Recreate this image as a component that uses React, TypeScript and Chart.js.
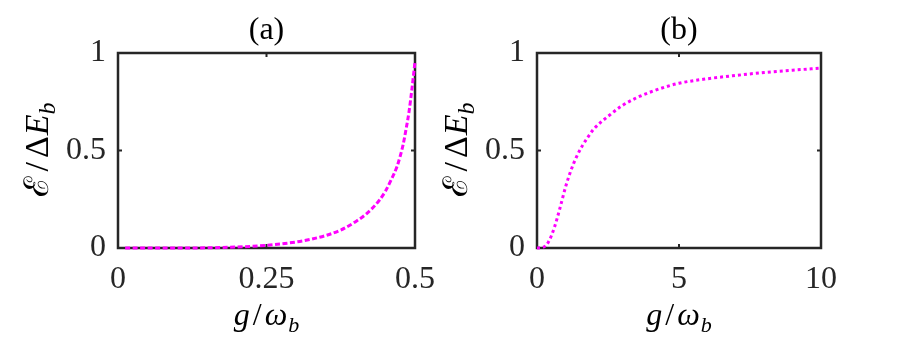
import React, { useEffect, useRef } from "react";
import { Chart, registerables } from "chart.js";
Chart.register(...registerables);

// ---- data ----
const gA = [0.012, 0.05, 0.1, 0.15, 0.2, 0.25, 0.3, 0.325, 0.35, 0.375, 0.4, 0.42, 0.44, 0.45, 0.46, 0.47, 0.475, 0.48, 0.485, 0.49, 0.495, 0.5];
const eA = [0, 0, 0, 0.001, 0.005, 0.014, 0.031, 0.045, 0.064, 0.092, 0.135, 0.18, 0.245, 0.29, 0.35, 0.42, 0.47, 0.53, 0.61, 0.7, 0.82, 0.955];

const gB = [0, 0.2, 0.4, 0.6, 0.8, 1.0, 1.2, 1.4, 1.6, 1.8, 2.0, 2.5, 3.0, 3.5, 4.0, 4.5, 5.0, 6.0, 7.0, 8.0, 9.0, 10];
const eB = [0, 0.003, 0.03, 0.1, 0.2, 0.31, 0.4, 0.47, 0.525, 0.57, 0.61, 0.675, 0.73, 0.77, 0.8, 0.825, 0.845, 0.868, 0.885, 0.9, 0.912, 0.922];

const xTicksA = [0, 0.25, 0.5];
const xTicksB = [0, 5, 10];
const yTicks = [0, 0.5, 1];
const titleA = "(a)";
const titleB = "(b)";

type Part = { t: string; style: "n" | "i" | "sub"; gap?: number };
const xLabelParts: Part[] = [
  { t: "g", style: "i", gap: 3 },
  { t: "/", style: "n", gap: 3 },
  { t: "ω", style: "i", gap: 1 },
  { t: "b", style: "sub" },
];
const yLabelParts: Part[] = [
  { t: "ℰ", style: "n", gap: 4 },
  { t: "/", style: "n", gap: 4 },
  { t: "Δ", style: "n", gap: 1 },
  { t: "E", style: "i", gap: 0 },
  { t: "b", style: "sub" },
];

const FAM = '"Liberation Serif", "DejaVu Serif", serif';
const TICK_COLOR = "#262626";
const FRAME_COLOR = "#262626";
const LINE_COLOR = "#ff00ff";

function partFont(p: Part, size: number) {
  if (p.style === "sub") return `italic ${Math.round(size * 0.7)}px ${FAM}`;
  if (p.style === "i") return `italic ${size}px ${FAM}`;
  return `${size}px ${FAM}`;
}

function drawParts(ctx: CanvasRenderingContext2D, parts: Part[], size: number) {
  // draws centred horizontally at (0,0) with alphabetic baseline
  let total = 0;
  const widths = parts.map((p) => {
    ctx.font = partFont(p, size);
    const w = ctx.measureText(p.t).width;
    total += w + (p.gap || 0);
    return w;
  });
  let x = -total / 2;
  parts.forEach((p, i) => {
    ctx.font = partFont(p, size);
    const dy = p.style === "sub" ? size * 0.22 : 0;
    ctx.fillText(p.t, x, dy);
    x += widths[i] + (p.gap || 0);
  });
}

const framePlugin = {
  id: "frameTicks",
  beforeDatasetsDraw(chart: any) {
    const { ctx, chartArea: a, scales } = chart;
    ctx.save();
    ctx.strokeStyle = FRAME_COLOR;
    ctx.lineWidth = 2.5;
    ctx.strokeRect(a.left, a.top, a.right - a.left, a.bottom - a.top);
    ctx.lineWidth = 2;
    const L = 4;
    scales.x.ticks.forEach((t: any) => {
      const px = scales.x.getPixelForValue(t.value);
      ctx.beginPath();
      ctx.moveTo(px, a.bottom);
      ctx.lineTo(px, a.bottom - L);
      ctx.moveTo(px, a.top);
      ctx.lineTo(px, a.top + L);
      ctx.stroke();
    });
    scales.y.ticks.forEach((t: any) => {
      const py = scales.y.getPixelForValue(t.value);
      ctx.beginPath();
      ctx.moveTo(a.left, py);
      ctx.lineTo(a.left + L, py);
      ctx.moveTo(a.right, py);
      ctx.lineTo(a.right - L, py);
      ctx.stroke();
    });
    ctx.restore();
  },
};

const labelsPlugin = {
  id: "mathLabels",
  afterDraw(chart: any) {
    const { ctx, chartArea: a } = chart;
    const title = chart.options.plugins.mathLabels.title;
    const cx = (a.left + a.right) / 2;
    ctx.save();
    ctx.fillStyle = "#000";
    ctx.textBaseline = "alphabetic";
    ctx.textAlign = "left";
    // title
    ctx.font = `32px ${FAM}`;
    const tw = ctx.measureText(title).width;
    ctx.fillText(title, cx - tw / 2, a.top - 14);
    // x label
    ctx.save();
    ctx.translate(cx, a.bottom + 77);
    drawParts(ctx, xLabelParts, 32);
    ctx.restore();
    // y label
    ctx.save();
    ctx.translate(a.left - 70, (a.top + a.bottom) / 2 - 1);
    ctx.rotate(-Math.PI / 2);
    drawParts(ctx, yLabelParts, 34);
    ctx.restore();
    ctx.restore();
  },
};

function makeConfig(
  xs: number[],
  ys: number[],
  xTicks: number[],
  title: string,
  yAxisWidth: number,
  padRight: number,
  dash: number[]
): any {
  const tickFont = { family: FAM, size: 32, lineHeight: 1.2 };
  return {
    type: "line",
    data: {
      datasets: [
        {
          data: xs.map((x, i) => ({ x, y: ys[i] })),
          borderColor: LINE_COLOR,
          borderWidth: 3,
          borderDash: dash,
          borderCapStyle: "butt",
          pointRadius: 0,
          fill: false,
          cubicInterpolationMode: "monotone",
          clip: false,
        },
      ],
    },
    options: {
      animation: false,
      responsive: false,
      maintainAspectRatio: false,
      devicePixelRatio: 1,
      layout: { padding: { top: 53, right: padRight, left: 0, bottom: 0 } },
      plugins: {
        legend: { display: false },
        tooltip: { enabled: false },
        title: { display: false },
        mathLabels: { title },
      },
      scales: {
        x: {
          type: "linear",
          min: xTicks[0],
          max: xTicks[xTicks.length - 1],
          afterBuildTicks: (s: any) => {
            s.ticks = xTicks.map((v) => ({ value: v }));
          },
          afterFit: (s: any) => {
            s.height = 92;
          },
          grid: { display: false, drawTicks: false },
          border: { display: false },
          ticks: {
            font: tickFont,
            color: TICK_COLOR,
            padding: 12,
            maxRotation: 0,
            autoSkip: false,
            callback: (v: any) => String(v),
          },
        },
        y: {
          type: "linear",
          min: yTicks[0],
          max: yTicks[yTicks.length - 1],
          afterBuildTicks: (s: any) => {
            s.ticks = yTicks.map((v) => ({ value: v }));
          },
          afterFit: (s: any) => {
            s.width = yAxisWidth;
          },
          grid: { display: false, drawTicks: false },
          border: { display: false },
          ticks: {
            font: tickFont,
            color: TICK_COLOR,
            padding: 12,
            autoSkip: false,
            callback: (v: any) => String(v),
          },
        },
      },
    },
    plugins: [framePlugin, labelsPlugin],
  };
}

export default function App() {
  const refA = useRef<HTMLCanvasElement>(null);
  const refB = useRef<HTMLCanvasElement>(null);

  useEffect(() => {
    const cA = new Chart(refA.current!, makeConfig(gA, eA, xTicksA, titleA, 118, 39, [5, 2.5]));
    const cB = new Chart(refB.current!, makeConfig(gB, eB, xTicksB, titleB, 107, 86, [3, 3]));
    return () => {
      cA.destroy();
      cB.destroy();
    };
  }, []);

  return (
    <div style={{ position: "absolute", left: 0, top: 0, width: 907, height: 340, background: "#fff" }}>
      <canvas
        ref={refA}
        width={454}
        height={340}
        style={{ position: "absolute", left: 0, top: 0, width: 454, height: 340 }}
      />
      <canvas
        ref={refB}
        width={477}
        height={340}
        style={{ position: "absolute", left: 430, top: 0, width: 477, height: 340 }}
      />
    </div>
  );
}
